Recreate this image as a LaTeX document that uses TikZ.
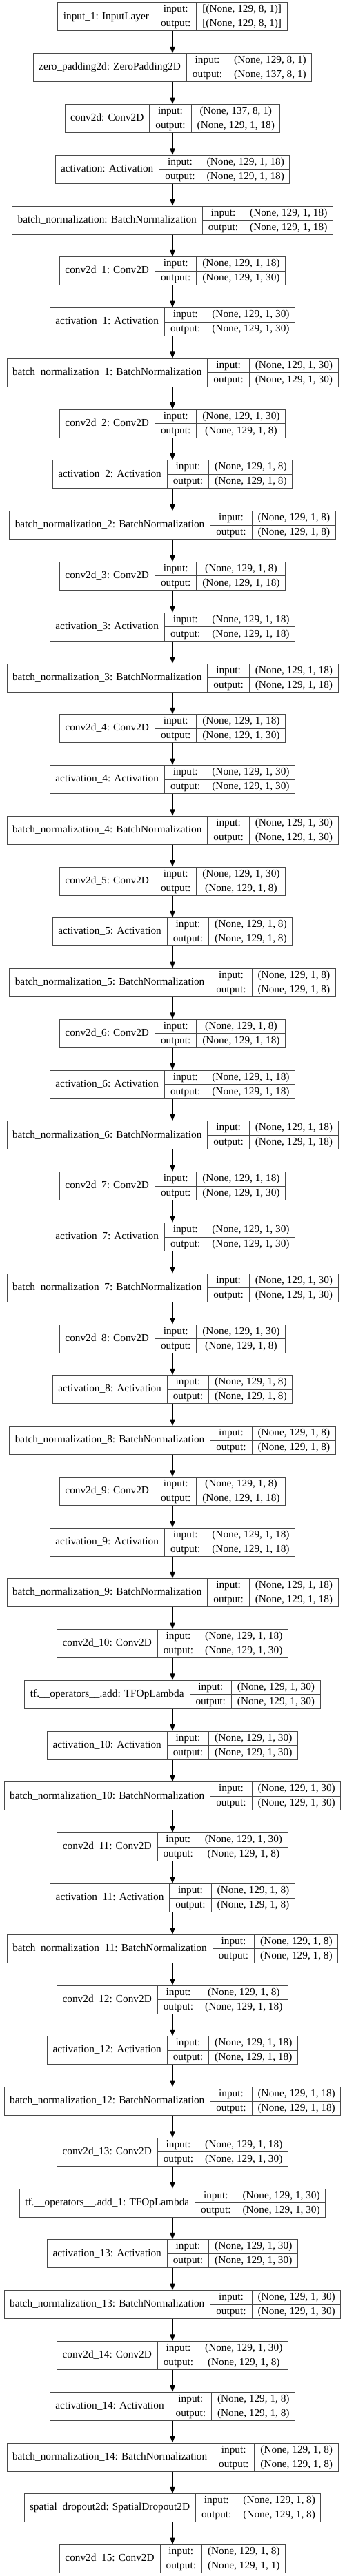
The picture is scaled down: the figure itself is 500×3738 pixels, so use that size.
\documentclass[tikz,border=0pt]{standalone}
\usepackage{fontspec}
\setmainfont{Liberation Serif}
\usepackage{colortbl}
\usepackage{tikz}
\usetikzlibrary{arrows.meta}
\definecolor{frame}{HTML}{4A4A4A}
\newcommand\layertab[3]{%
  \setlength\tabcolsep{8pt}\setlength\arrayrulewidth{1pt}\arrayrulecolor{frame}%
  \begin{tabular}{c|@{}c@{}}
    #1 & \begin{tabular}{c|c} input: & #2\\ \hline output: & #3\end{tabular}
  \end{tabular}}
\tikzset{
  layer/.style={draw=frame,line width=1pt,inner sep=0pt,fill=white,font=\fontsize{15.3}{20}\selectfont},
  flow/.style={line width=1pt,-{Triangle[length=9.5pt,width=7.5pt]}}
}

\begin{document}
\begin{tikzpicture}[x=1pt,y=1pt]
\fill[white] (0,0) rectangle (500,-3738);
\useasboundingbox (0,0) rectangle (500,-3738);
\def\P{73.77}
\foreach \i/\n/\a/\b in {
 1/{input\_1: InputLayer}/{[(None, 129, 8, 1)]}/{[(None, 129, 8, 1)]},
 2/{zero\_padding2d: ZeroPadding2D}/{(None, 129, 8, 1)}/{(None, 137, 8, 1)},
 3/{conv2d: Conv2D}/{(None, 137, 8, 1)}/{(None, 129, 1, 18)},
 4/{activation: Activation}/{(None, 129, 1, 18)}/{(None, 129, 1, 18)},
 5/{batch\_normalization: BatchNormalization}/{(None, 129, 1, 18)}/{(None, 129, 1, 18)},
 6/{conv2d\_1: Conv2D}/{(None, 129, 1, 18)}/{(None, 129, 1, 30)},
 7/{activation\_1: Activation}/{(None, 129, 1, 30)}/{(None, 129, 1, 30)},
 8/{batch\_normalization\_1: BatchNormalization}/{(None, 129, 1, 30)}/{(None, 129, 1, 30)},
 9/{conv2d\_2: Conv2D}/{(None, 129, 1, 30)}/{(None, 129, 1, 8)},
 10/{activation\_2: Activation}/{(None, 129, 1, 8)}/{(None, 129, 1, 8)},
 11/{batch\_normalization\_2: BatchNormalization}/{(None, 129, 1, 8)}/{(None, 129, 1, 8)},
 12/{conv2d\_3: Conv2D}/{(None, 129, 1, 8)}/{(None, 129, 1, 18)},
 13/{activation\_3: Activation}/{(None, 129, 1, 18)}/{(None, 129, 1, 18)},
 14/{batch\_normalization\_3: BatchNormalization}/{(None, 129, 1, 18)}/{(None, 129, 1, 18)},
 15/{conv2d\_4: Conv2D}/{(None, 129, 1, 18)}/{(None, 129, 1, 30)},
 16/{activation\_4: Activation}/{(None, 129, 1, 30)}/{(None, 129, 1, 30)},
 17/{batch\_normalization\_4: BatchNormalization}/{(None, 129, 1, 30)}/{(None, 129, 1, 30)},
 18/{conv2d\_5: Conv2D}/{(None, 129, 1, 30)}/{(None, 129, 1, 8)},
 19/{activation\_5: Activation}/{(None, 129, 1, 8)}/{(None, 129, 1, 8)},
 20/{batch\_normalization\_5: BatchNormalization}/{(None, 129, 1, 8)}/{(None, 129, 1, 8)},
 21/{conv2d\_6: Conv2D}/{(None, 129, 1, 8)}/{(None, 129, 1, 18)},
 22/{activation\_6: Activation}/{(None, 129, 1, 18)}/{(None, 129, 1, 18)},
 23/{batch\_normalization\_6: BatchNormalization}/{(None, 129, 1, 18)}/{(None, 129, 1, 18)},
 24/{conv2d\_7: Conv2D}/{(None, 129, 1, 18)}/{(None, 129, 1, 30)},
 25/{activation\_7: Activation}/{(None, 129, 1, 30)}/{(None, 129, 1, 30)},
 26/{batch\_normalization\_7: BatchNormalization}/{(None, 129, 1, 30)}/{(None, 129, 1, 30)},
 27/{conv2d\_8: Conv2D}/{(None, 129, 1, 30)}/{(None, 129, 1, 8)},
 28/{activation\_8: Activation}/{(None, 129, 1, 8)}/{(None, 129, 1, 8)},
 29/{batch\_normalization\_8: BatchNormalization}/{(None, 129, 1, 8)}/{(None, 129, 1, 8)},
 30/{conv2d\_9: Conv2D}/{(None, 129, 1, 8)}/{(None, 129, 1, 18)},
 31/{activation\_9: Activation}/{(None, 129, 1, 18)}/{(None, 129, 1, 18)},
 32/{batch\_normalization\_9: BatchNormalization}/{(None, 129, 1, 18)}/{(None, 129, 1, 18)},
 33/{conv2d\_10: Conv2D}/{(None, 129, 1, 18)}/{(None, 129, 1, 30)},
 34/{tf.\_\_operators\_\_.add: TFOpLambda}/{(None, 129, 1, 30)}/{(None, 129, 1, 30)},
 35/{activation\_10: Activation}/{(None, 129, 1, 30)}/{(None, 129, 1, 30)},
 36/{batch\_normalization\_10: BatchNormalization}/{(None, 129, 1, 30)}/{(None, 129, 1, 30)},
 37/{conv2d\_11: Conv2D}/{(None, 129, 1, 30)}/{(None, 129, 1, 8)},
 38/{activation\_11: Activation}/{(None, 129, 1, 8)}/{(None, 129, 1, 8)},
 39/{batch\_normalization\_11: BatchNormalization}/{(None, 129, 1, 8)}/{(None, 129, 1, 8)},
 40/{conv2d\_12: Conv2D}/{(None, 129, 1, 8)}/{(None, 129, 1, 18)},
 41/{activation\_12: Activation}/{(None, 129, 1, 18)}/{(None, 129, 1, 18)},
 42/{batch\_normalization\_12: BatchNormalization}/{(None, 129, 1, 18)}/{(None, 129, 1, 18)},
 43/{conv2d\_13: Conv2D}/{(None, 129, 1, 18)}/{(None, 129, 1, 30)},
 44/{tf.\_\_operators\_\_.add\_1: TFOpLambda}/{(None, 129, 1, 30)}/{(None, 129, 1, 30)},
 45/{activation\_13: Activation}/{(None, 129, 1, 30)}/{(None, 129, 1, 30)},
 46/{batch\_normalization\_13: BatchNormalization}/{(None, 129, 1, 30)}/{(None, 129, 1, 30)},
 47/{conv2d\_14: Conv2D}/{(None, 129, 1, 30)}/{(None, 129, 1, 8)},
 48/{activation\_14: Activation}/{(None, 129, 1, 8)}/{(None, 129, 1, 8)},
 49/{batch\_normalization\_14: BatchNormalization}/{(None, 129, 1, 8)}/{(None, 129, 1, 8)},
 50/{spatial\_dropout2d: SpatialDropout2D}/{(None, 129, 1, 8)}/{(None, 129, 1, 8)},
 51/{conv2d\_15: Conv2D}/{(None, 129, 1, 8)}/{(None, 129, 1, 1)}}{
  \node[layer] (l\i) at (250,{-24.5-(\i-1)*\P}) {\layertab{\n}{\a}{\b}};
}
\foreach \i in {1,...,50}{
  \pgfmathtruncatemacro\j{\i+1}
  \draw[flow] (l\i) -- (l\j);
}
\end{tikzpicture}
\end{document}
